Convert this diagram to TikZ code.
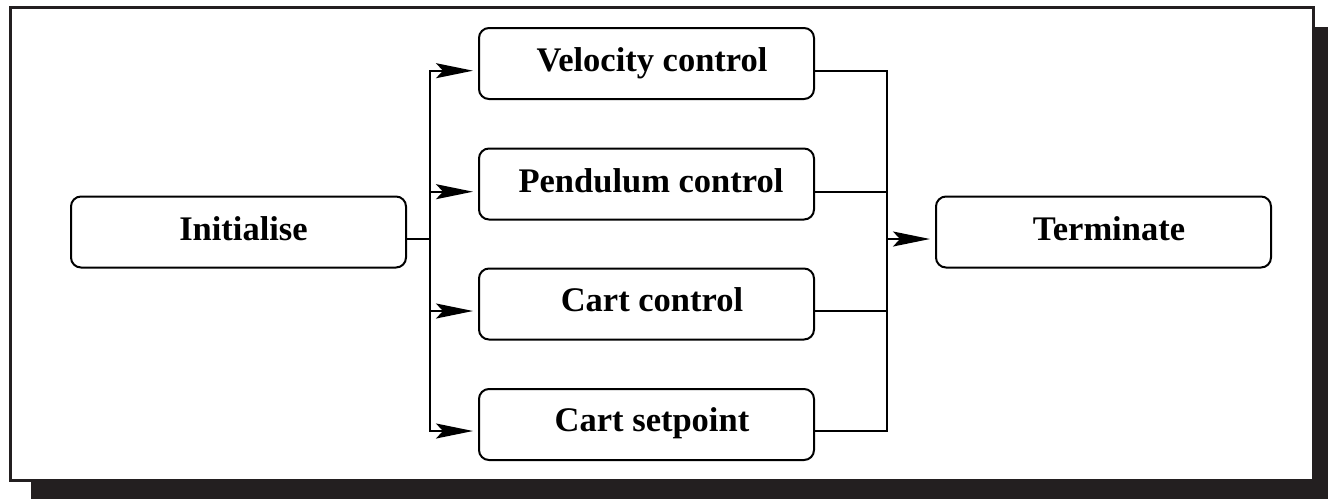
\documentclass[tikz,border=0pt]{standalone}
\usepackage{fontspec}
\setmainfont{Liberation Serif}
\usetikzlibrary{arrows.meta}
\definecolor{shadowc}{HTML}{231F20}
\begin{document}
\begin{tikzpicture}[x=1pt,y=-1pt,
  box/.style={draw, line width=2pt, rounded corners=10pt, minimum width=335pt, minimum height=71pt, inner sep=0pt},
  lbl/.style={font=\fontsize{34.5}{40}\selectfont\bfseries, anchor=base, inner sep=0pt},
  conn/.style={line width=2pt, line cap=rect},
  arr/.style={line width=2pt, -{Stealth[length=37pt, width=15pt, inset=7pt]}, shorten >=5pt}]
\useasboundingbox (0,0) rectangle (1328,499);
\fill[shadowc] (31,27) rectangle (1328,499);
\filldraw[fill=white, draw=shadowc, line width=3pt] (10.5,7.5) rectangle (1313,480);

% boxes
\node[box] (init) at (238.5,232) {};
\node[box] (vel)  at (646.5,63.5) {};
\node[box] (pend) at (646.5,184) {};
\node[box] (cc)   at (646.5,304) {};
\node[box] (cs)   at (646.5,424.5) {};
\node[box] (term) at (1103.5,232) {};

% labels
\node[lbl] (tinit) at (243.5,240) {Initialise};
\node[lbl] (tvel)  at (652,71.5) {Velocity control};
\node[lbl] (tpend) at (651,192) {Pendulum control};
\node[lbl] (tcc)   at (652,311.5) {Cart control};
\node[lbl] (tcs)   at (652,431.5) {Cart setpoint};
\node[lbl] (tterm) at (1109,240) {Terminate};

% left bus
\coordinate (bm) at (430,239);
\coordinate (b1) at (430,70.7);
\coordinate (b2) at (430,191.7);
\coordinate (b3) at (430,311);
\coordinate (b4) at (430,431);
\draw[conn] (init.east |- bm) -- (bm);
\draw[conn] (b1) -- (b4);
\draw[arr] (b1) -- (vel.west |- b1);
\draw[arr] (b2) -- (pend.west |- b2);
\draw[arr] (b3) -- (cc.west |- b3);
\draw[arr] (b4) -- (cs.west |- b4);

% right bus
\coordinate (r1) at (887,70.7);
\coordinate (r2) at (887,191.7);
\coordinate (r3) at (887,311);
\coordinate (r4) at (887,431);
\coordinate (rm) at (887,239);
\draw[conn] (vel.east |- r1) -- (r1);
\draw[conn] (pend.east |- r2) -- (r2);
\draw[conn] (cc.east |- r3) -- (r3);
\draw[conn] (cs.east |- r4) -- (r4);
\draw[conn] (r1) -- (r4);
\draw[arr] (rm) -- (term.west |- rm);
\end{tikzpicture}
\end{document}
